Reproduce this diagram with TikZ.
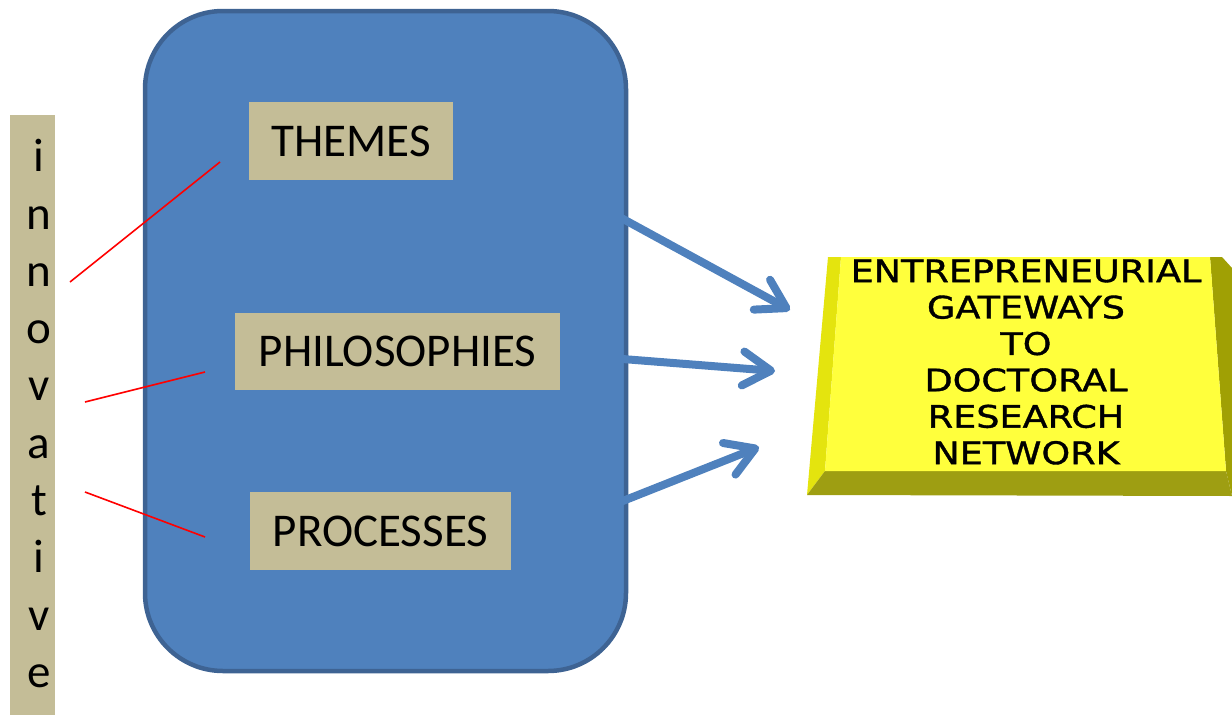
\documentclass[tikz,border=0pt]{standalone}
\usepackage{fontspec}
\setmainfont{Carlito}
\newfontfamily\goalfont[FakeStretch=1.18,FakeBold=1.2]{DejaVu Sans}
\usetikzlibrary{arrows.meta,calc}
\definecolor{panelblue}{HTML}{4F81BD}
\definecolor{paneledge}{HTML}{3E6393}
\definecolor{tanfill}{HTML}{C4BD97}
\definecolor{yface}{HTML}{FFFF3C}
\definecolor{yleft}{HTML}{E4E40E}
\definecolor{yright}{HTML}{A0A004}
\definecolor{ybottom}{HTML}{9E9E12}
\tikzset{
  tanbox/.style={fill=tanfill, draw=none, inner sep=0pt, font=\fontsize{47}{56}\selectfont},
  redline/.style={draw=red, line width=1.6pt},
  bigarrow/.style={draw=panelblue, line width=8pt, line cap=round,
    -{Straight Barb[length=28pt, width=34pt, line cap=round, line join=round]}},
}
\begin{document}
\begin{tikzpicture}[x=1pt,y=-1pt]
\useasboundingbox (0,0) rectangle (1232,715);
% panel
\draw[fill=panelblue, draw=paneledge, line width=4.5pt, rounded corners=78pt]
  (145,11) rectangle (626,671);
% innovative bar
\node[fill=tanfill, inner sep=0pt, minimum width=45pt, minimum height=600pt] (bar) at (32.5,415) {};
\node[align=center, inner sep=0pt, anchor=south, font=\fontsize{47}{57.3}\selectfont] (word) at (39,688)
  {i\\n\\n\\o\\v\\a\\t\\i\\v\\e};
% tan boxes
\node[tanbox, minimum width=204pt, minimum height=78pt] (themes) at (351,141) {THEMES};
\node[tanbox, minimum width=325pt, minimum height=77pt] (philo) at (397.5,351.5) {PHILOSOPHIES};
\node[tanbox, minimum width=261pt, minimum height=78pt] (proc) at (380.5,531) {PROCESSES};
% red connectors
\coordinate (r1a) at (70,282); \coordinate (r1b) at (220,162);
\coordinate (r2a) at (85,402); \coordinate (r2b) at (205,372);
\coordinate (r3a) at (85,492); \coordinate (r3b) at (205,537);
\draw[redline] (r1a) -- (r1b);
\draw[redline] (r2a) -- (r2b);
\draw[redline] (r3a) -- (r3b);
% yellow beveled box
\coordinate (oA) at (828,257); \coordinate (oB) at (1222,257);
\coordinate (oC) at (1232,268); \coordinate (oD) at (1232,496);
\coordinate (oE) at (807,495);
\coordinate (iA) at (841,257); \coordinate (iB) at (1210,257);
\coordinate (iC) at (1226,471); \coordinate (iD) at (825,471);
\fill[yleft] (oA) -- (iA) -- (iD) -- (oE) -- cycle;
\fill[yright] (oB) -- (oC) -- (oD) -- (iC) -- (iB) -- cycle;
\fill[ybottom] (iD) -- (iC) -- (oD) -- (oE) -- cycle;
\fill[yface] (iA) -- (iB) -- (iC) -- (iD) -- cycle;
\node[align=center, inner sep=0pt, font=\goalfont\fontsize{31}{36.4}\selectfont] (goal) at (1026,362)
  {ENTREPRENEURIAL\\GATEWAYS\\TO\\DOCTORAL\\RESEARCH\\NETWORK};
% blue arrows
\coordinate (a1s) at (491,147); \coordinate (a1e) at (790,310);
\coordinate (a2s) at (597,357); \coordinate (a2e) at (775,371);
\coordinate (a3s) at (537,535); \coordinate (a3e) at (759,447);
\draw[bigarrow] (a1s) -- (a1e);
\draw[bigarrow] (a2s) -- (a2e);
\draw[bigarrow] (a3s) -- (a3e);
\end{tikzpicture}
\end{document}
